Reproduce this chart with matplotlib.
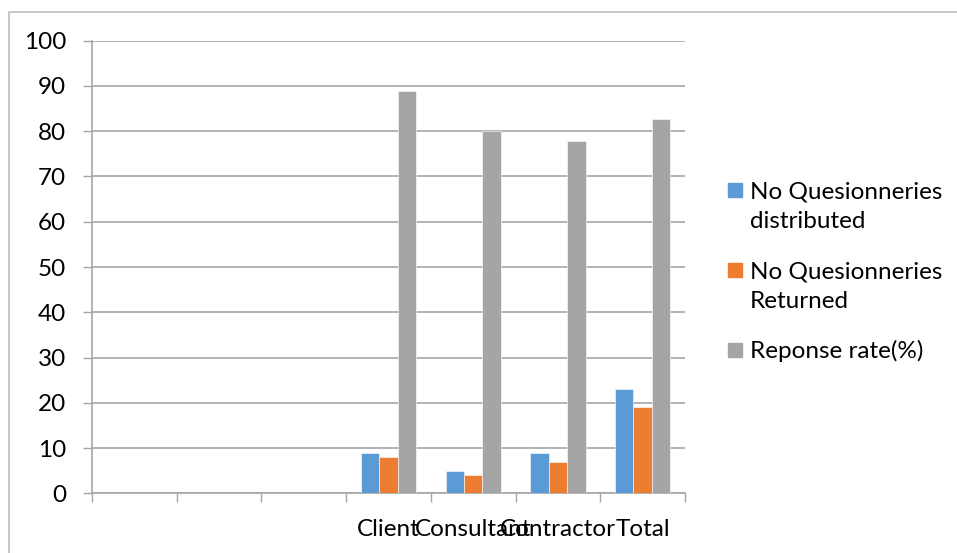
import matplotlib
matplotlib.use("Agg")
import matplotlib.pyplot as plt
import numpy as np
from matplotlib.patches import Rectangle

plt.rcParams['font.family'] = ['Lato', 'DejaVu Sans']

categories = ["", "", "", "Client", "Consultant", "Contractor", "Total"]
distributed = [np.nan, np.nan, np.nan, 9, 5, 9, 23]
returned = [np.nan, np.nan, np.nan, 8, 4, 7, 19]
response_rate = [np.nan, np.nan, np.nan, 88.9, 80.0, 77.8, 82.6]
series_names = ["No Quesionneries\ndistributed", "No Quesionneries\nReturned", "Reponse rate(%)"]
colors = ["#5B9BD5", "#ED7D31", "#A5A5A5"]
yticks = [0, 10, 20, 30, 40, 50, 60, 70, 80, 90, 100]

FS = 17.5
W, H = 957, 553
fig = plt.figure(figsize=(W / 100, H / 100), dpi=100)
ax = fig.add_axes([92 / W, (H - 493.3) / H, (685 - 92) / W, (493.3 - 40.7) / H])

x = np.arange(len(categories))
bw = 0.218
for i, (vals, c) in enumerate(zip([distributed, returned, response_rate], colors)):
    ax.bar(x + (i - 1) * bw, vals, width=bw, color=c, edgecolor="white", linewidth=0.4, zorder=3)

ax.set_xlim(-0.5, len(categories) - 0.5)
ax.set_ylim(0, 100)
ax.set_yticks(yticks)
ax.set_yticklabels([str(v) for v in yticks], fontsize=FS)
ax.set_xticks(np.arange(len(categories) + 1) - 0.5, minor=False)
ax.set_xticklabels([])
ax.set_xticks(x, minor=True)
ax.set_xticklabels(categories, minor=True, fontsize=FS)
ax.tick_params(axis="x", which="minor", length=0, pad=18.5)
ax.tick_params(axis="x", which="major", length=6.5, width=1, color="#A6A6A6", direction="out")
ax.tick_params(axis="y", length=6.5, width=1, color="#A6A6A6", pad=12, direction="out")

ax.grid(axis="y", color="#A6A6A6", linewidth=1.2, zorder=0)
for s in ["top", "right"]:
    ax.spines[s].set_visible(False)
for s in ["left", "bottom"]:
    ax.spines[s].set_color("#A6A6A6")
    ax.spines[s].set_linewidth(1.2)

# legend (manual layout, pixel positions converted to figure coords)
leg_y = [190, 270, 350]
line_gap = 31
for name, c, yc in zip(series_names, colors, leg_y):
    fig.patches.append(Rectangle((728 / W, (H - yc - 7) / H), 14 / W, 14 / H,
                                 transform=fig.transFigure, color=c))
    nlines = name.count("\n")
    base = yc + 7.5 + nlines * line_gap
    fig.text(750 / W, (H - base) / H, name, fontsize=FS, va="baseline",
             ha="left", linespacing=1.55, transform=fig.transFigure)

# outer chart border
fig.patches.append(Rectangle((9 / W, -0.01), 1.0, (H - 11.7) / H + 0.01, transform=fig.transFigure,
                             fill=False, edgecolor="#BFBFBF", linewidth=1.2))

fig.savefig("out.png", dpi=100)
